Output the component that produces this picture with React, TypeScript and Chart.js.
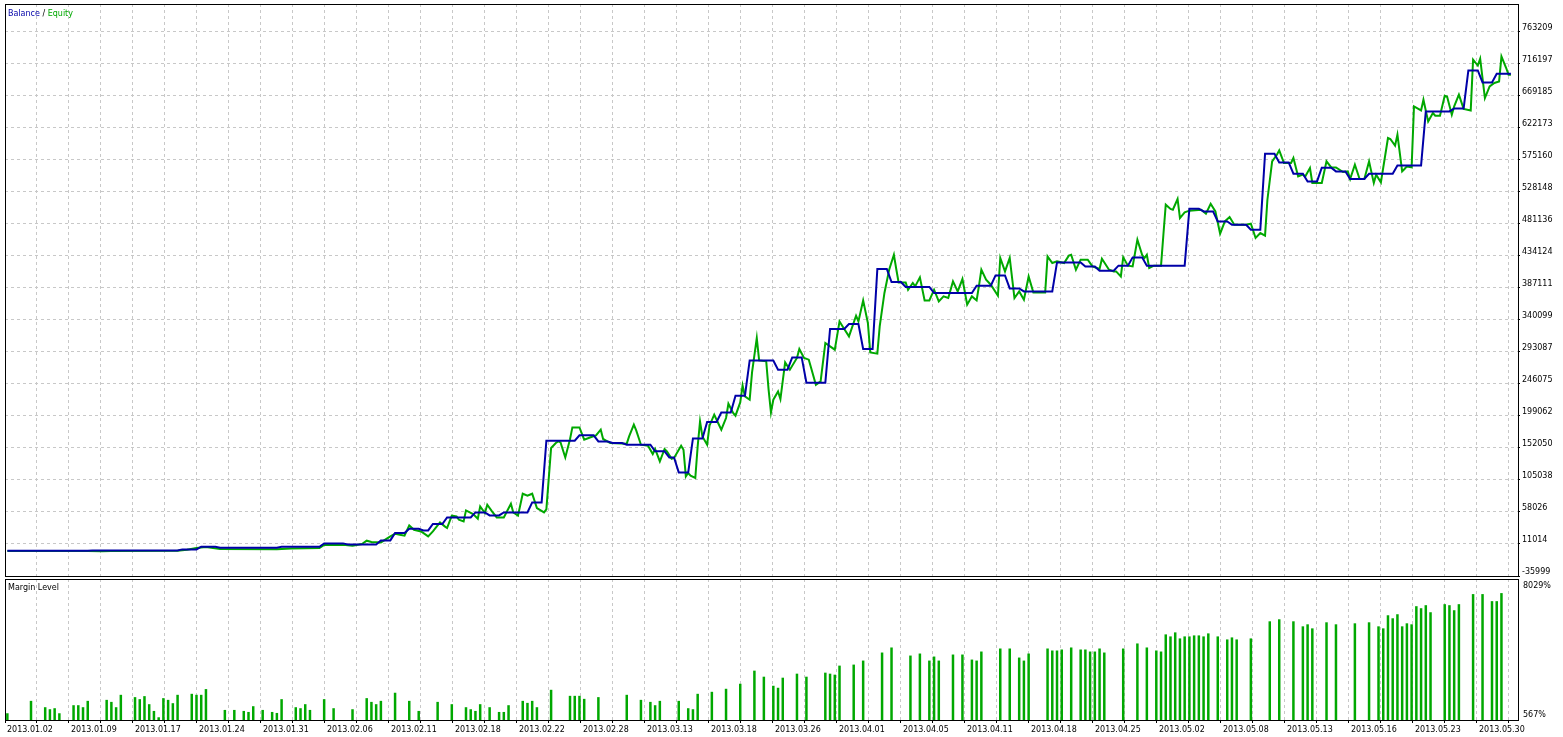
import React, { useEffect, useRef } from 'react';
import { Chart, registerables } from 'chart.js';

Chart.register(...registerables);

const FONT_FAMILY = 'DejaVu Sans';
const FONT_SIZE = 8;
const BALANCE_COLOR = '#0000A8';
const EQUITY_COLOR = '#00A800';
const MARGIN_COLOR = '#00A800';
const GRID_COLOR = '#C8C8C8';

// x axis: deal index
const X_MIN = -0.5;
const X_MAX = 319.5;
const X_GRID_STEP = 6.768;
const X_GRID_COUNT = 48;

const DATE_LABELS = [
  '2013.01.02', '2013.01.09', '2013.01.17', '2013.01.24', '2013.01.31', '2013.02.06',
  '2013.02.11', '2013.02.18', '2013.02.22', '2013.02.28', '2013.03.13', '2013.03.18',
  '2013.03.26', '2013.04.01', '2013.04.05', '2013.04.11', '2013.04.18', '2013.04.25',
  '2013.05.02', '2013.05.08', '2013.05.13', '2013.05.16', '2013.05.23', '2013.05.30',
];

const VALUE_TICKS = [
  -35999, 11014, 58026, 105038, 152050, 199062, 246075, 293087, 340099,
  387111, 434124, 481136, 528148, 575160, 622173, 669185, 716197, 763209,
];
const VALUE_MIN = -35999;
const VALUE_MAX = 804340;

const MARGIN_MIN = 567;
const MARGIN_MAX = 8029;

const BALANCE_X = [
  0, 17, 18, 36, 37, 40, 41, 44, 45, 57,
  58, 66, 67, 71, 72, 78, 79, 81, 82, 84,
  85, 87, 88, 89, 90, 92, 93, 98, 99, 101,
  102, 104, 105, 110, 111, 113, 114, 120, 121, 124,
  125, 127, 128, 130, 131, 136, 137, 139, 140, 141,
  142, 144, 145, 147, 148, 150, 151, 153, 154, 156,
  157, 162, 163, 165, 166, 168, 169, 173, 174, 177,
  178, 180, 181, 183, 184, 186, 187, 189, 190, 195,
  196, 204, 205, 208, 209, 211, 212, 214, 215, 221,
  222, 227, 228, 230, 231, 234, 235, 237, 238, 240,
  241, 249, 250, 252, 253, 255, 256, 258, 259, 262,
  263, 265, 266, 268, 269, 271, 272, 274, 275, 277,
  278, 280, 281, 283, 284, 287, 288, 293, 294, 299,
  300, 305, 306, 308, 309, 311, 312, 314, 315, 318,
];
const BALANCE_Y = [
  1000, 1000, 1600, 1600, 3100, 3100, 7000, 7000, 5600, 5600,
  7000, 7000, 11900, 11900, 10400, 10400, 16300, 16300, 27200, 27200,
  33500, 33500, 31000, 31000, 40400, 40400, 50100, 50100, 57400, 57400,
  53000, 53000, 57400, 57400, 72100, 72100, 162800, 162800, 170600, 170600,
  161700, 161700, 159400, 159400, 156900, 156900, 147100, 147100, 138200, 138200,
  116200, 116200, 166100, 166100, 190200, 190200, 204300, 204300, 228900, 228900,
  280700, 280700, 267100, 267100, 285100, 285100, 248000, 248000, 326900, 326900,
  334200, 334200, 297500, 297500, 415000, 415000, 395900, 395900, 388600, 388600,
  379800, 379800, 390500, 390500, 405600, 405600, 386500, 386500, 382100, 382100,
  424700, 424700, 418800, 418800, 412500, 412500, 419900, 419900, 432100, 432100,
  419900, 419900, 503600, 503600, 499600, 499600, 484900, 484900, 480100, 480100,
  472800, 472800, 584400, 584400, 571600, 571600, 555000, 555000, 543700, 543700,
  563800, 563800, 558400, 558400, 547200, 547200, 555000, 555000, 567200, 567200,
  646500, 646500, 651000, 651000, 706800, 706800, 689100, 689100, 701900, 701900,
];

const EQUITY_X = [
  0, 17, 20, 22, 36, 38, 40, 42, 45, 57,
  60, 66, 67, 71, 73, 75, 76, 77, 79, 81,
  82, 83, 84, 85, 86, 87.5, 89, 90, 91.5, 92.5,
  93, 94, 95, 95.5, 96.5, 97, 98.5, 99.5, 100, 101,
  101.5, 102.5, 103.5, 105, 106.5, 107, 108, 109, 110, 111,
  112, 113.5, 114, 115, 116, 116.5, 117, 118, 119, 119.5,
  121, 122, 123.5, 124.5, 125.5, 126, 127.5, 131, 131.5, 132.5,
  133, 134, 135.5, 136.5, 137, 138, 139, 139.5, 140.5, 141,
  142.5, 143, 143.5, 144, 144.5, 145.5, 146, 146.5, 147, 148,
  148.5, 149.5, 150, 151, 152, 152.5, 153.5, 154, 155, 155.5,
  156, 157, 157.5, 158.5, 159, 160.5, 161, 161.5, 162, 163,
  163.5, 164.5, 165.5, 167, 167.5, 168.5, 169.5, 170, 171, 172,
  173, 174, 175, 176, 177, 178, 179.5, 180, 181, 182,
  182.5, 184, 184.5, 185.5, 186.5, 187.5, 188, 188.5, 190, 190.5,
  191.5, 192, 193, 194, 195, 196, 197, 198, 199, 200,
  201, 202, 203, 204, 205, 205.5, 206, 207, 208, 209.5,
  210, 211, 212, 213, 214, 215, 216, 217, 219.5, 220,
  221, 222, 223.5, 224.5, 225, 226, 227, 228.5, 229.5, 231,
  231.5, 233, 234, 234.5, 235.5, 236, 237, 238, 239, 240,
  240.5, 241, 241.5, 242.5, 244, 244.5, 245, 246, 246.5, 247.5,
  248, 249, 250, 252.5, 253.5, 254.5, 255.5, 256.5, 257.5, 258.5,
  259.5, 262, 263, 264, 265, 266, 266.5, 267.5, 268.5, 269,
  270, 271.5, 272, 273, 274, 274.5, 275.5, 276, 278, 279,
  280, 281, 282.5, 283.5, 284, 285, 286, 287, 288, 289,
  289.5, 290.5, 292, 292.5, 293.5, 294, 295, 295.5, 296, 297,
  297.5, 299, 299.5, 300.5, 301.5, 302, 303, 304, 304.5, 305.5,
  306, 307, 308, 309.5, 310, 311, 311.5, 312.5, 313.5, 314.5,
  315.5, 316, 317, 317.5, 318,
];
const EQUITY_Y = [
  600, 600, 200, 600, 1200, 2500, 5200, 6500, 3500, 3400,
  4500, 5000, 9500, 10000, 8600, 11000, 15900, 14000, 13400, 22200,
  26100, 24700, 23200, 38300, 32000, 29500, 22200, 29500, 42700, 36900,
  34500, 52600, 51600, 46700, 44200, 60400, 55100, 48200, 66300, 56600,
  68700, 58900, 50100, 50100, 70200, 57400, 52600, 84900, 82000, 84900,
  63900, 57400, 62000, 152000, 159400, 161700, 160300, 138200, 165000, 182300,
  182300, 164200, 168200, 170600, 178900, 165300, 159400, 158400, 169100, 186300,
  177900, 156900, 155400, 143200, 150600, 132400, 150600, 147100, 136300, 137400,
  155400, 149500, 110300, 115300, 111400, 108000, 154400, 191100, 169100, 156900,
  184800, 201000, 193600, 178900, 196100, 217100, 203500, 199500, 219000, 244000,
  227900, 223000, 263100, 313600, 280700, 279300, 237700, 204300, 223000, 235200,
  224000, 277800, 267100, 284300, 297500, 284300, 281800, 269600, 245000, 250000,
  306300, 301300, 296500, 338000, 326900, 316000, 346400, 338000, 368900, 335700,
  292500, 290600, 330700, 379800, 414000, 436000, 415000, 395300, 395300, 384600,
  394400, 389500, 402700, 368900, 368900, 384600, 367400, 374800, 372400, 396800,
  382100, 400300, 362600, 374800, 368900, 390500, 414000, 399300, 391900, 375800,
  431200, 411500, 431200, 372400, 382100, 369900, 404100, 380600, 380600, 433500,
  423800, 426200, 423800, 434600, 436000, 414000, 428700, 428700, 418800, 415000,
  430100, 414000, 411500, 411500, 404100, 432100, 419900, 418800, 458100, 436000,
  431200, 436000, 416500, 419900, 419900, 465400, 509500, 503200, 502100, 517900,
  489900, 498200, 500700, 502100, 496300, 510900, 499600, 466900, 484900, 491400,
  480100, 480100, 481600, 460600, 467900, 464000, 516800, 573100, 582900, 589300,
  570700, 570700, 578100, 551000, 553600, 551000, 563400, 541400, 541400, 573100,
  564300, 564300, 557500, 558400, 547200, 568200, 547200, 547200, 573100, 541400,
  553600, 542300, 607500, 606000, 596200, 612400, 558400, 561900, 565700, 564300,
  653900, 648000, 663700, 631900, 644200, 640200, 640200, 669600, 668500, 641700,
  653900, 671100, 650200, 648000, 722500, 713900, 724100, 666200, 683300, 688300,
  690600, 727300, 710300, 700500, 700500,
];

const MARGIN_X = [
  0, 5, 8, 9, 10, 11, 14, 15, 16, 17,
  21, 22, 23, 24, 27, 28, 29, 30, 31, 32,
  33, 34, 35, 36, 39, 40, 41, 42, 46, 48,
  50, 51, 52, 54, 56, 57, 58, 61, 62, 63,
  64, 67, 69, 73, 76, 77, 78, 79, 82, 85,
  87, 91, 94, 97, 98, 99, 100, 102, 104, 105,
  106, 109, 110, 111, 112, 115, 119, 120, 121, 122,
  125, 131, 134, 136, 137, 138, 142, 144, 145, 146,
  149, 152, 155, 158, 160, 162, 163, 164, 167, 169,
  173, 174, 175, 176, 179, 181, 185, 187, 191, 193,
  195, 196, 197, 200, 202, 204, 205, 206, 210, 212,
  214, 215, 216, 220, 221, 222, 223, 225, 227, 228,
  229, 230, 231, 232, 236, 239, 241, 243, 244, 245,
  246, 247, 248, 249, 250, 251, 252, 253, 254, 256,
  258, 259, 260, 263, 267, 269, 272, 274, 275, 276,
  279, 281, 285, 288, 290, 291, 292, 293, 294, 295,
  296, 297, 298, 299, 300, 301, 304, 305, 306, 307,
  310, 312, 314, 315, 316,
];
const MARGIN_Y = [
  924, 1580, 1244, 1137, 1191, 924, 1350, 1350, 1244, 1580,
  1633, 1526, 1244, 1900, 1777, 1670, 1830, 1404, 1047, 711,
  1724, 1633, 1457, 1900, 1953, 1900, 1900, 2203, 1100, 1100,
  1047, 993, 1297, 1100, 993, 940, 1670, 1244, 1191, 1404,
  1100, 1670, 1191, 1137, 1724, 1526, 1404, 1580, 2010, 1580,
  1047, 1526, 1404, 1244, 1137, 1047, 1404, 1244, 993, 993,
  1350, 1580, 1473, 1580, 1244, 2166, 1846, 1846, 1846, 1686,
  1777, 1900, 1633, 1526, 1350, 1580, 1580, 1191, 1137, 1953,
  2059, 2219, 2486, 3179, 2859, 2379, 2273, 2806, 3019, 2859,
  3072, 3019, 2966, 3445, 3499, 3712, 4138, 4405, 3978, 4085,
  3712, 3925, 3712, 4032, 4032, 3765, 3712, 4191, 4351, 4351,
  3872, 3712, 4085, 4351, 4245, 4245, 4298, 4405, 4298, 4298,
  4191, 4191, 4351, 4138, 4351, 4618, 4405, 4245, 4191, 5098,
  4991, 5204, 4885, 4991, 4991, 5044, 5044, 4991, 5151, 4991,
  4831, 4938, 4831, 4885, 5790, 5897, 5790, 5524, 5631, 5417,
  5737, 5631, 5684, 5737, 5524, 5417, 6110, 5950, 6164, 5524,
  5684, 5631, 6590, 6483, 6643, 6270, 6697, 6643, 6377, 6697,
  7230, 7230, 6857, 6857, 7283,
];

const font = { family: FONT_FAMILY, size: FONT_SIZE };

const toPoints = (xs: number[], ys: number[]) => xs.map((x, i) => ({ x, y: ys[i] }));

const buildGridTicks = (scale: any) => {
  scale.ticks = Array.from({ length: X_GRID_COUNT }, (_, m) => ({ value: X_MIN + m * X_GRID_STEP }));
};

const strokeFrame = (ctx: any, a: any) => {
  ctx.strokeStyle = '#000';
  ctx.lineWidth = 1;
  ctx.setLineDash([]);
  ctx.strokeRect(a.left + 0.5, a.top + 0.5, a.right - a.left, a.bottom - a.top);
};

const topFramePlugin = {
  id: 'topFrame',
  afterDraw(chart: any) {
    const { ctx, chartArea: a } = chart;
    ctx.save();
    strokeFrame(ctx, a);
    ctx.font = `${FONT_SIZE}px "${FONT_FAMILY}"`;
    ctx.textBaseline = 'middle';
    ctx.textAlign = 'left';
    const parts = [
      { text: 'Balance', color: BALANCE_COLOR },
      { text: ' / ', color: '#000' },
      { text: 'Equity', color: EQUITY_COLOR },
    ];
    let x = a.left + 3;
    for (const p of parts) {
      ctx.fillStyle = p.color;
      ctx.fillText(p.text, x, a.top + 9.5);
      x += ctx.measureText(p.text).width;
    }
    ctx.restore();
  },
};

const bottomFramePlugin = {
  id: 'bottomFrame',
  afterDraw(chart: any) {
    const { ctx, chartArea: a } = chart;
    const y = chart.scales.y;
    ctx.save();
    strokeFrame(ctx, a);
    ctx.font = `${FONT_SIZE}px "${FONT_FAMILY}"`;
    ctx.textBaseline = 'middle';
    ctx.textAlign = 'left';
    ctx.fillStyle = '#000';
    ctx.fillText('Margin Level', a.left + 3, a.top + 9);
    ctx.fillText(`${MARGIN_MAX}%`, a.right + 5, y.getPixelForValue(MARGIN_MAX) + 7);
    ctx.fillText(`${MARGIN_MIN}%`, a.right + 5, y.getPixelForValue(MARGIN_MIN) - 5);
    ctx.restore();
  },
};

export default function App() {
  const topRef = useRef<HTMLCanvasElement | null>(null);
  const bottomRef = useRef<HTMLCanvasElement | null>(null);

  useEffect(() => {
    const top = new Chart(topRef.current as any, {
      type: 'line',
      data: {
        datasets: [
          {
            label: 'Balance',
            data: toPoints(BALANCE_X, BALANCE_Y),
            borderColor: BALANCE_COLOR,
            borderWidth: 2,
            pointRadius: 0,
            tension: 0,
          },
          {
            label: 'Equity',
            data: toPoints(EQUITY_X, EQUITY_Y),
            borderColor: EQUITY_COLOR,
            borderWidth: 2,
            pointRadius: 0,
            tension: 0,
          },
        ],
      },
      options: {
        responsive: false,
        animation: false,
        events: [],
        layout: { padding: { left: 5, top: 4, right: 0, bottom: 3 } },
        plugins: { legend: { display: false }, tooltip: { enabled: false } },
        scales: {
          x: {
            type: 'linear',
            min: X_MIN,
            max: X_MAX,
            bounds: 'data',
            offset: false,
            afterBuildTicks: buildGridTicks,
            afterFit: (s: any) => {
              s.height = 0;
              s.paddingLeft = 0;
              s.paddingRight = 0;
            },
            ticks: { display: false },
            grid: { color: GRID_COLOR, drawTicks: false, lineWidth: 1 },
            border: { display: false, dash: [3, 3] },
          },
          y: {
            type: 'linear',
            position: 'right',
            min: VALUE_MIN,
            max: VALUE_MAX,
            bounds: 'data',
            afterBuildTicks: (s: any) => {
              s.ticks = VALUE_TICKS.map((value) => ({ value }));
            },
            afterFit: (s: any) => {
              s.width = 45;
              s.paddingTop = 0;
              s.paddingBottom = 0;
            },
            ticks: {
              font,
              color: '#000',
              padding: 2,
              labelOffset: -4,
              autoSkip: false,
              callback: (v: any) => String(v),
            },
            grid: {
              color: GRID_COLOR,
              tickColor: '#000',
              tickLength: 2,
              tickBorderDash: [],
            },
            border: { display: false, dash: [3, 3] },
          },
        },
      },
      plugins: [topFramePlugin],
    } as any);

    const bottom = new Chart(bottomRef.current as any, {
      type: 'bar',
      data: {
        datasets: [
          {
            label: 'Margin Level',
            data: toPoints(MARGIN_X, MARGIN_Y),
            backgroundColor: MARGIN_COLOR,
            borderWidth: 0,
            barThickness: 2.5,
            inflateAmount: 0,
          },
        ],
      },
      options: {
        responsive: false,
        animation: false,
        events: [],
        layout: { padding: { left: 5, top: 0, right: 0, bottom: 0 } },
        plugins: { legend: { display: false }, tooltip: { enabled: false } },
        scales: {
          x: {
            type: 'linear',
            min: X_MIN,
            max: X_MAX,
            bounds: 'data',
            offset: false,
            afterBuildTicks: buildGridTicks,
            afterFit: (s: any) => {
              s.height = 17;
              s.paddingLeft = 0;
              s.paddingRight = 0;
            },
            ticks: {
              font,
              color: '#000',
              align: 'start',
              labelOffset: 2,
              padding: 2,
              autoSkip: false,
              maxRotation: 0,
              minRotation: 0,
              callback: (_v: any, i: number) => (i % 2 === 0 ? DATE_LABELS[i / 2] ?? '' : ''),
            },
            grid: {
              color: GRID_COLOR,
              offset: false,
              tickColor: '#000',
              tickLength: 3,
              tickBorderDash: [],
            },
            border: { display: false, dash: [3, 3] },
          },
          y: {
            type: 'linear',
            position: 'right',
            min: MARGIN_MIN,
            max: MARGIN_MAX,
            beginAtZero: false,
            afterFit: (s: any) => {
              s.width = 45;
              s.paddingTop = 0;
              s.paddingBottom = 0;
            },
            ticks: { display: false },
            grid: { display: false },
            border: { display: false },
          },
        },
      },
      plugins: [bottomFramePlugin],
    } as any);

    return () => {
      top.destroy();
      bottom.destroy();
    };
  }, []);

  return (
    <div style={{ position: 'absolute', left: 0, top: 0, width: 1563, height: 737, background: '#fff' }}>
      <canvas ref={topRef} width={1563} height={579} style={{ position: 'absolute', left: 0, top: 0, display: 'block' }} />
      <canvas ref={bottomRef} width={1563} height={158} style={{ position: 'absolute', left: 0, top: 579, display: 'block' }} />
    </div>
  );
}
